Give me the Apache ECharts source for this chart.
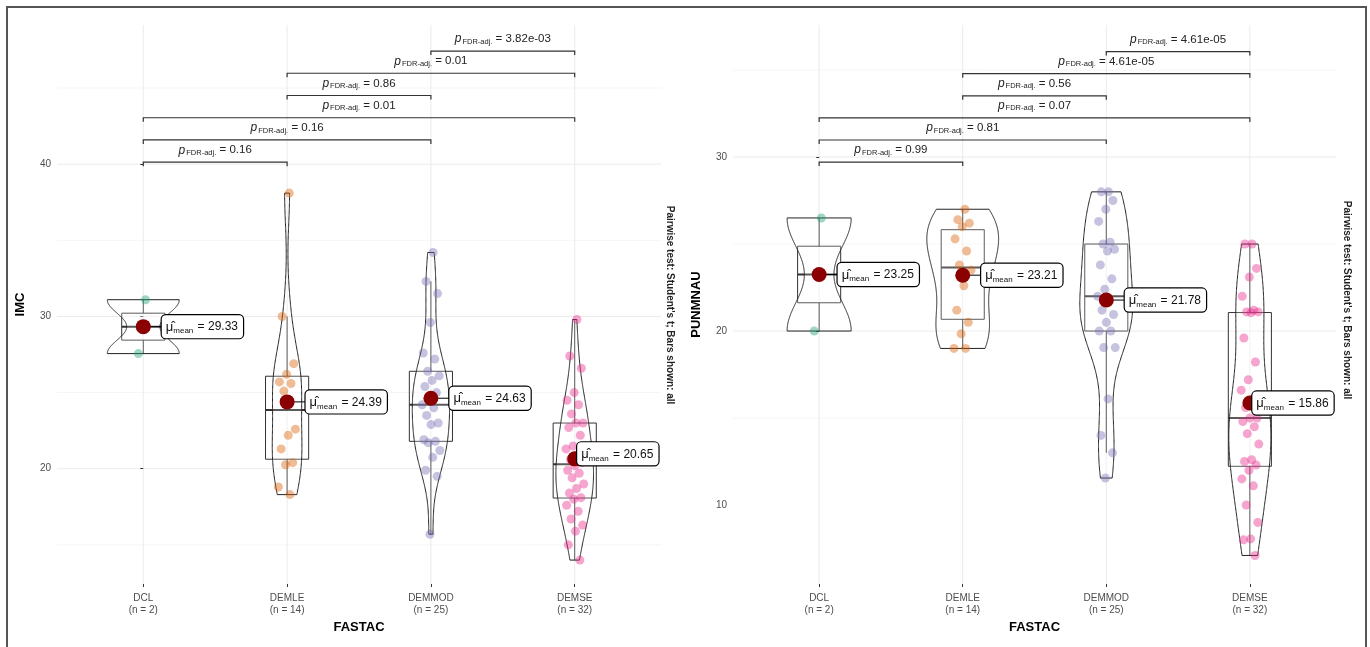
<!DOCTYPE html>
<html>
<head>
<meta charset="utf-8">
<script src="https://cdn.jsdelivr.net/npm/echarts@6/dist/echarts.min.js"></script>
<style>
  html, body { margin: 0; padding: 0; background: #ffffff; }
  #chart { width: 1370px; height: 647px; }
</style>
</head>
<body>
<div id="chart"></div>
<script>
// ---- data ----
const groups = ['DCL', 'DEMLE', 'DEMMOD', 'DEMSE'];

const imcDCL = [31.1, 27.56];
const imcDEMLE = [38.1, 30.0, 26.9, 26.2, 25.7, 25.6, 25.1, 22.6, 22.2, 21.3, 20.4, 20.26, 18.8, 18.3];
const imcDEMMOD = [34.2, 32.3, 31.5, 29.6, 27.6, 27.2, 26.4, 26.1, 25.8, 25.4, 25.0, 24.6, 24.2,
                   24.0, 23.5, 23.0, 22.9, 21.9, 21.8, 21.7, 21.2, 20.75, 19.9, 19.5, 15.7];
const imcDEMSE = [29.8, 27.4, 26.6, 25.0, 24.5, 24.2, 23.6, 23.0, 23.0, 22.7, 22.2, 21.5, 21.3, 20.9, 20.6, 20.4,
                  20.2, 19.9, 19.7, 19.4, 19.0, 18.7, 18.4, 18.1, 18.0, 17.6, 17.2, 16.7, 16.3, 15.9, 15.0, 14.0];

const punDCL = [26.5, 20.0];
const punDEMLE = [27.0, 26.4, 26.2, 26.0, 25.3, 24.6, 23.8, 23.5, 22.6, 21.2, 20.5, 19.84, 19.0, 19.0];
const punDEMMOD = [28.0, 28.0, 27.5, 27.0, 26.3, 25.1, 25.0, 24.7, 24.6, 23.8, 23.0, 22.4, 22.0,
                   21.7, 21.2, 20.95, 20.5, 20.0, 20.0, 19.05, 19.05, 16.1, 14.0, 13.0, 11.55];
const punDEMSE = [25.0, 25.0, 23.6, 23.1, 22.0, 21.2, 21.1, 21.1, 21.05, 19.6, 18.22, 17.2, 16.6, 16.1, 15.6, 15.0,
                  15.0, 14.8, 14.5, 14.1, 13.5, 12.6, 12.5, 12.3, 12.0, 11.5, 11.1, 10.0, 9.0, 8.05, 8.0, 7.1];

// pairwise comparisons (group indices) and their FDR-adjusted p-values
const pairs = [[0, 1], [0, 2], [0, 3], [1, 2], [1, 3], [2, 3]];
const imcPvals = ['0.16', '0.16', '0.01', '0.86', '0.01', '3.82e-03'];
const punPvals = ['0.99', '0.81', '0.07', '0.56', '4.61e-05', '4.61e-05'];

const imcTicks = [20, 30, 40];
const punTicks = [10, 20, 30];

// ---- styling ----
const FONT = '"Liberation Sans", Arial, sans-serif';
const palette = ['#1B9E77', '#D95F02', '#7570B3', '#E7298A'];
const caption = "Pairwise test: Student's t; Bars shown: all";

// ---- statistics helpers ----
function sortedCopy(a) { return a.slice().sort((x, y) => x - y); }
function quantile(s, p) {
  const h = (s.length - 1) * p, lo = Math.floor(h);
  const hi = Math.min(lo + 1, s.length - 1);
  return s[lo] + (h - lo) * (s[hi] - s[lo]);
}
function mean(a) { return a.reduce((t, v) => t + v, 0) / a.length; }
function sd(a) {
  const m = mean(a);
  return Math.sqrt(a.reduce((t, v) => t + (v - m) * (v - m), 0) / (a.length - 1));
}
function bwNrd0(a) {
  const s = sortedCopy(a);
  const iqr = quantile(s, 0.75) - quantile(s, 0.25);
  let lo = Math.min(sd(a), iqr / 1.34);
  if (!(lo > 0)) lo = sd(a) || 1;
  return 0.9 * lo * Math.pow(a.length, -0.2);
}
function groupStats(a) {
  const s = sortedCopy(a);
  const q1 = quantile(s, 0.25), med = quantile(s, 0.5), q3 = quantile(s, 0.75);
  const iqr = q3 - q1;
  const hi = Math.max(...s.filter(v => v <= q3 + 1.5 * iqr));
  const lo = Math.min(...s.filter(v => v >= q1 - 1.5 * iqr));
  const bw = bwNrd0(a);
  const n = 256, ymin = s[0], ymax = s[s.length - 1];
  const dens = [];
  for (let k = 0; k < n; k++) {
    const y = ymin + (ymax - ymin) * k / (n - 1);
    let d = 0;
    for (const v of a) { const z = (y - v) / bw; d += Math.exp(-0.5 * z * z); }
    dens.push([y, d / (a.length * bw * Math.sqrt(2 * Math.PI))]);
  }
  return { q1, med, q3, hi, lo, dens, mean: mean(a), n: a.length };
}

// deterministic horizontal spread for the points
function spread(k) { return (((k * 0.6180339887) % 1) - 0.5) * 0.13; }

function buildPanel(idx, sets, pvals, ticks, minors, yMin, yMax, bBase, bStep, yName) {
  const stats = sets.map(groupStats);
  const maxD = Math.max(...stats.map(st => Math.max(...st.dens.map(d => d[1]))));
  const series = [];

  // panel grid lines
  const gridRows = [];
  ticks.forEach(v => { if (v > yMin && v < yMax) gridRows.push([0, v, 1]); });
  minors.forEach(v => gridRows.push([0, v, 0]));
  groups.forEach((g, i) => gridRows.push([1, i, 1]));
  series.push({
    type: 'custom', xAxisIndex: idx, yAxisIndex: idx, silent: true, z: 0,
    data: gridRows,
    renderItem(params, api) {
      const kind = api.value(0), v = api.value(1), major = api.value(2);
      let p1, p2;
      if (kind === 0) { p1 = api.coord([-0.6, v]); p2 = api.coord([3.6, v]); }
      else { p1 = api.coord([v, yMin]); p2 = api.coord([v, yMax]); }
      return { type: 'line', shape: { x1: p1[0], y1: p1[1], x2: p2[0], y2: p2[1] },
               style: { stroke: major ? '#EBEBEB' : '#F2F2F2', lineWidth: major ? 1 : 0.8 } };
    }
  });

  // violins + boxes
  series.push({
    type: 'custom', xAxisIndex: idx, yAxisIndex: idx, silent: true, z: 2,
    data: groups.map((g, i) => [i, stats[i].med]),
    renderItem(params, api) {
      const i = api.value(0), st = stats[i];
      const band = api.size([1, 0])[0];
      const cx = api.coord([i, 0])[0];
      const left = [], right = [];
      st.dens.forEach(([y, d]) => {
        const w = d / maxD * 0.25 * band;
        const py = api.coord([i, y])[1];
        left.push([cx - w, py]);
        right.unshift([cx + w, py]);
      });
      const bh = 0.15 * band;
      const yq1 = api.coord([i, st.q1])[1], yq3 = api.coord([i, st.q3])[1];
      const ym = api.coord([i, st.med])[1];
      const yhi = api.coord([i, st.hi])[1], ylo = api.coord([i, st.lo])[1];
      const ymean = api.coord([i, st.mean])[1];
      const children = [
        { type: 'line', shape: { x1: cx, y1: yq3, x2: cx, y2: yhi }, style: { stroke: '#333', lineWidth: 1 } },
        { type: 'line', shape: { x1: cx, y1: yq1, x2: cx, y2: ylo }, style: { stroke: '#333', lineWidth: 1 } },
        { type: 'rect', shape: { x: cx - bh, y: yq3, width: 2 * bh, height: yq1 - yq3 },
          style: { fill: 'rgba(255,255,255,0.2)', stroke: '#333', lineWidth: 1 } },
        { type: 'line', shape: { x1: cx - bh, y1: ym, x2: cx + bh, y2: ym }, style: { stroke: '#333', lineWidth: 2 } },
        { type: 'polygon', shape: { points: left.concat(right) },
          style: { fill: 'rgba(255,255,255,0.2)', stroke: '#222', lineWidth: 1 } }
      ];
      if (i !== 3) {
        children.push({ type: 'line', shape: { x1: cx, y1: ymean, x2: cx + 19, y2: ymean },
                        style: { stroke: '#000', lineWidth: 1 }, z2: 5 });
      }
      return { type: 'group', children };
    }
  });

  // observations
  sets.forEach((vals, i) => {
    series.push({
      type: 'scatter', xAxisIndex: idx, yAxisIndex: idx, silent: true, z: 3,
      symbolSize: 9,
      itemStyle: { color: palette[i], opacity: 0.42 },
      data: vals.map((v, k) => [i + spread(k + 1), v])
    });
  });

  // group means with labels
  series.push({
    type: 'scatter', xAxisIndex: idx, yAxisIndex: idx, silent: true, z: 6,
    symbolSize: 15,
    itemStyle: { color: '#8B0000', opacity: 1 },
    label: {
      show: true, position: 'right', distance: 11,
      backgroundColor: '#ffffff', borderColor: '#000', borderWidth: 1.2, borderRadius: 4,
      padding: [4, 5, 3, 4],
      rich: {
        mu: { fontFamily: FONT, fontSize: 13, color: '#111' },
        sub: { fontFamily: FONT, fontSize: 8, color: '#111', padding: [8, 1, 0, 0] },
        eq: { fontFamily: FONT, fontSize: 12, color: '#111' }
      },
      formatter: p => '{mu|\u03BC\u0302}{sub|mean}{eq| = ' + stats[p.dataIndex].mean.toFixed(2) + '}'
    },
    data: stats.map((st, i) => i === 3
      ? { value: [i, st.mean], label: { distance: -5, offset: [0, idx === 0 ? -5 : 0] } }
      : { value: [i, st.mean] })
  });

  // significance brackets
  series.push({
    type: 'custom', xAxisIndex: idx, yAxisIndex: idx, silent: true, z: 4,
    data: pairs.map((p, k) => [p[0], p[1], k]),
    renderItem(params, api) {
      const a = api.value(0), b = api.value(1), k = api.value(2);
      const y = bBase + bStep * k;
      const p1 = api.coord([a, y]), p2 = api.coord([b, y]);
      return {
        type: 'group',
        children: [
          { type: 'polyline', shape: { points: [[p1[0], p1[1] + 4], [p1[0], p1[1]], [p2[0], p2[1]], [p2[0], p2[1] + 4]] },
            style: { stroke: '#333', lineWidth: 1.2, fill: null } },
          { type: 'text', x: (p1[0] + p2[0]) / 2, y: p1[1] - 12,
            style: {
              text: '{p|p}{s|FDR-adj.}{v| = ' + pvals[k] + '}',
              align: 'center', verticalAlign: 'middle',
              rich: {
                p: { fontFamily: FONT, fontSize: 12, fontStyle: 'italic', fill: '#222' },
                s: { fontFamily: FONT, fontSize: 7.5, fill: '#222', padding: [5, 0, 0, 1] },
                v: { fontFamily: FONT, fontSize: 11.5, fill: '#222' }
              }
            } }
        ]
      };
    }
  });

  const xAxis = {
    type: 'value', gridIndex: idx, min: -0.6, max: 3.6,
    name: 'FASTAC', nameLocation: 'middle', nameGap: 37,
    nameTextStyle: { fontFamily: FONT, fontSize: 13, fontWeight: 'bold', color: '#000' },
    splitLine: { show: false }, axisLine: { show: false },
    axisTick: { show: true, customValues: [0, 1, 2, 3], length: 3, lineStyle: { color: '#333' } },
    axisLabel: {
      customValues: [0, 1, 2, 3], margin: 8, color: '#4D4D4D', fontFamily: FONT, fontSize: 10, lineHeight: 12,
      formatter: v => groups[Math.round(v)] + '\n(n = ' + sets[Math.round(v)].length + ')'
    }
  };
  const yAxis = {
    type: 'value', gridIndex: idx, min: yMin, max: yMax,
    name: yName, nameLocation: 'middle', nameGap: 30, nameRotate: 90,
    nameTextStyle: { fontFamily: FONT, fontSize: 13, fontWeight: 'bold', color: '#000' },
    splitLine: { show: false }, axisLine: { show: false },
    axisTick: { show: true, customValues: ticks, length: 3, lineStyle: { color: '#333' } },
    axisLabel: { customValues: ticks, margin: 6, color: '#4D4D4D', fontFamily: FONT, fontSize: 10 }
  };
  return { series, xAxis, yAxis };
}

const left = buildPanel(0, [imcDCL, imcDEMLE, imcDEMMOD, imcDEMSE], imcPvals, imcTicks,
  [15, 25, 35, 45], 12.43, 49.14, 40.13, 1.46, 'IMC');
const right = buildPanel(1, [punDCL, punDEMLE, punDEMMOD, punDEMSE], punPvals, [20, 30],
  [15, 25, 35], 5.46, 37.59, 29.71, 1.27, 'PUNMNAU');
right.yAxis.axisLabel.customValues = punTicks;

const chart = echarts.init(document.getElementById('chart'), null, { renderer: 'canvas' });
chart.setOption({
  animation: false,
  backgroundColor: '#ffffff',
  grid: [
    { left: 57, right: 709, top: 25, bottom: 63 },
    { left: 733, right: 34, top: 25, bottom: 63 }
  ],
  xAxis: [left.xAxis, right.xAxis],
  yAxis: [left.yAxis, right.yAxis],
  series: left.series.concat(right.series),
  graphic: [
    { type: 'rect', shape: { x: 7, y: 7, width: 1359, height: 670 },
      style: { fill: 'none', stroke: '#555', lineWidth: 2 }, silent: true },
    { type: 'text', x: 670, y: 305, rotation: -Math.PI / 2, silent: true,
      style: { text: caption, fontFamily: FONT, fontSize: 10, fontWeight: 'bold', fill: '#222',
               align: 'center', verticalAlign: 'middle' } },
    { type: 'text', x: 1347, y: 300, rotation: -Math.PI / 2, silent: true,
      style: { text: caption, fontFamily: FONT, fontSize: 10, fontWeight: 'bold', fill: '#222',
               align: 'center', verticalAlign: 'middle' } }
  ]
});
</script>
</body>
</html>
